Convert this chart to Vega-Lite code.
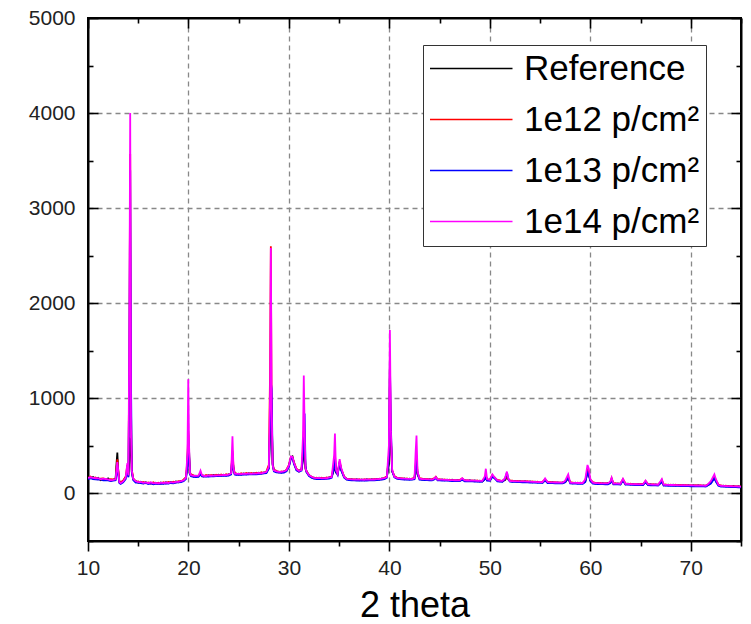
{
"$schema": "https://vega.github.io/schema/vega-lite/v6.json",
"autosize": "none",
"width": 653,
"height": 523,
"padding": {"left": 88, "top": 18, "right": 10, "bottom": 83},
"config": {"font": "Liberation Sans", "view": {"stroke": "#000", "strokeWidth": 2}},
"layer": [
{
"data": {"values": [
{"x":10,"R":171,"A":161,"B":150,"C":163},
{"x":10.25,"R":160,"A":177,"B":162,"C":170},
{"x":10.5,"R":173,"A":158,"B":151,"C":165},
{"x":10.75,"R":154,"A":167,"B":149,"C":160},
{"x":11,"R":165,"A":150,"B":147,"C":162},
{"x":11.25,"R":140,"A":155,"B":149,"C":148},
{"x":11.5,"R":153,"A":159,"B":138,"C":155},
{"x":11.75,"R":142,"A":150,"B":141,"C":152},
{"x":12,"R":158,"A":140,"B":137,"C":149},
{"x":12.25,"R":133,"A":150,"B":131,"C":139},
{"x":12.5,"R":142,"A":147,"B":135,"C":144},
{"x":12.75,"R":160,"A":150,"B":140,"C":150},
{"x":12.85,"R":330,"A":280,"B":230,"C":260},
{"x":12.92,"R":430,"A":360,"B":300,"C":330},
{"x":13,"R":250,"A":260,"B":200,"C":240},
{"x":13.12,"R":120,"A":130,"B":110,"C":120},
{"x":13.25,"R":112,"A":118,"B":100,"C":108},
{"x":13.5,"R":128,"A":135,"B":118,"C":126},
{"x":13.75,"R":170,"A":175,"B":150,"C":165},
{"x":13.92,"R":220,"A":300,"B":250,"C":320},
{"x":14.02,"R":180,"A":200,"B":170,"C":190},
{"x":14.12,"R":350,"A":1500,"B":1400,"C":1800},
{"x":14.2,"R":570,"A":3570,"B":3400,"C":4000},
{"x":14.28,"R":560,"A":900,"B":1200,"C":700},
{"x":14.36,"R":230,"A":250,"B":220,"C":240},
{"x":14.5,"R":150,"A":160,"B":142,"C":155},
{"x":14.75,"R":130,"A":122,"B":115,"C":128},
{"x":15,"R":112,"A":126,"B":114,"C":120},
{"x":15.25,"R":123,"A":110,"B":108,"C":121},
{"x":15.5,"R":108,"A":120,"B":104,"C":112},
{"x":15.75,"R":118,"A":107,"B":110,"C":116},
{"x":16,"R":104,"A":116,"B":99,"C":108},
{"x":16.25,"R":114,"A":103,"B":105,"C":117},
{"x":16.5,"R":102,"A":118,"B":97,"C":106},
{"x":16.75,"R":113,"A":104,"B":103,"C":111},
{"x":17,"R":100,"A":112,"B":98,"C":105},
{"x":17.25,"R":115,"A":101,"B":104,"C":113},
{"x":17.5,"R":105,"A":117,"B":100,"C":108},
{"x":17.75,"R":117,"A":106,"B":107,"C":115},
{"x":18,"R":108,"A":121,"B":103,"C":110},
{"x":18.25,"R":120,"A":109,"B":110,"C":118},
{"x":18.5,"R":111,"A":124,"B":107,"C":114},
{"x":18.75,"R":125,"A":114,"B":113,"C":122},
{"x":19,"R":118,"A":130,"B":116,"C":121},
{"x":19.25,"R":133,"A":125,"B":120,"C":130},
{"x":19.5,"R":132,"A":144,"B":130,"C":136},
{"x":19.75,"R":168,"A":170,"B":152,"C":165},
{"x":19.9,"R":300,"A":360,"B":280,"C":420},
{"x":19.98,"R":620,"A":660,"B":560,"C":1200},
{"x":20.06,"R":450,"A":380,"B":400,"C":500},
{"x":20.15,"R":210,"A":220,"B":200,"C":215},
{"x":20.25,"R":195,"A":200,"B":182,"C":192},
{"x":20.5,"R":178,"A":190,"B":175,"C":186},
{"x":20.75,"R":188,"A":176,"B":172,"C":184},
{"x":21,"R":180,"A":190,"B":174,"C":186},
{"x":21.2,"R":205,"A":215,"B":200,"C":240},
{"x":21.35,"R":190,"A":185,"B":178,"C":192},
{"x":21.5,"R":188,"A":179,"B":176,"C":186},
{"x":21.75,"R":180,"A":193,"B":178,"C":183},
{"x":22,"R":192,"A":182,"B":177,"C":189},
{"x":22.25,"R":183,"A":195,"B":179,"C":186},
{"x":22.5,"R":194,"A":184,"B":180,"C":191},
{"x":22.75,"R":185,"A":197,"B":182,"C":188},
{"x":23,"R":196,"A":186,"B":182,"C":193},
{"x":23.25,"R":187,"A":199,"B":184,"C":190},
{"x":23.5,"R":198,"A":188,"B":185,"C":195},
{"x":23.75,"R":189,"A":201,"B":186,"C":192},
{"x":24,"R":200,"A":192,"B":187,"C":198},
{"x":24.25,"R":210,"A":215,"B":200,"C":212},
{"x":24.38,"R":400,"A":450,"B":420,"C":600},
{"x":24.48,"R":260,"A":280,"B":250,"C":270},
{"x":24.6,"R":210,"A":212,"B":200,"C":208},
{"x":24.75,"R":199,"A":210,"B":195,"C":205},
{"x":25,"R":208,"A":198,"B":196,"C":206},
{"x":25.25,"R":200,"A":212,"B":196,"C":203},
{"x":25.5,"R":210,"A":201,"B":198,"C":208},
{"x":25.75,"R":202,"A":214,"B":198,"C":205},
{"x":26,"R":212,"A":203,"B":200,"C":210},
{"x":26.25,"R":204,"A":216,"B":200,"C":207},
{"x":26.5,"R":214,"A":205,"B":202,"C":212},
{"x":26.75,"R":206,"A":218,"B":202,"C":209},
{"x":27,"R":217,"A":208,"B":204,"C":215},
{"x":27.25,"R":210,"A":222,"B":206,"C":212},
{"x":27.5,"R":222,"A":213,"B":210,"C":220},
{"x":27.75,"R":218,"A":230,"B":214,"C":225},
{"x":28,"R":270,"A":300,"B":260,"C":280},
{"x":28.12,"R":600,"A":1250,"B":700,"C":1000},
{"x":28.2,"R":1200,"A":2600,"B":1170,"C":2580},
{"x":28.28,"R":900,"A":800,"B":1100,"C":900},
{"x":28.38,"R":300,"A":320,"B":310,"C":300},
{"x":28.5,"R":245,"A":250,"B":232,"C":242},
{"x":28.75,"R":226,"A":238,"B":222,"C":232},
{"x":29,"R":230,"A":221,"B":218,"C":228},
{"x":29.25,"R":220,"A":232,"B":216,"C":226},
{"x":29.5,"R":233,"A":224,"B":220,"C":231},
{"x":29.75,"R":238,"A":250,"B":232,"C":244},
{"x":30,"R":290,"A":300,"B":280,"C":295},
{"x":30.2,"R":380,"A":385,"B":370,"C":390},
{"x":30.35,"R":390,"A":380,"B":375,"C":385},
{"x":30.5,"R":320,"A":330,"B":310,"C":325},
{"x":30.75,"R":250,"A":260,"B":242,"C":255},
{"x":31,"R":238,"A":232,"B":228,"C":236},
{"x":31.25,"R":250,"A":255,"B":240,"C":248},
{"x":31.4,"R":350,"A":450,"B":400,"C":600},
{"x":31.48,"R":480,"A":660,"B":560,"C":1240},
{"x":31.56,"R":450,"A":500,"B":840,"C":700},
{"x":31.65,"R":260,"A":270,"B":290,"C":265},
{"x":31.75,"R":228,"A":236,"B":225,"C":232},
{"x":32,"R":195,"A":188,"B":182,"C":192},
{"x":32.25,"R":168,"A":178,"B":165,"C":175},
{"x":32.5,"R":166,"A":158,"B":155,"C":164},
{"x":32.75,"R":156,"A":166,"B":152,"C":162},
{"x":33,"R":165,"A":157,"B":152,"C":163},
{"x":33.25,"R":155,"A":166,"B":153,"C":158},
{"x":33.5,"R":164,"A":156,"B":152,"C":162},
{"x":33.75,"R":158,"A":168,"B":154,"C":160},
{"x":34,"R":170,"A":162,"B":157,"C":168},
{"x":34.25,"R":175,"A":178,"B":165,"C":172},
{"x":34.5,"R":250,"A":300,"B":270,"C":400},
{"x":34.58,"R":350,"A":420,"B":380,"C":630},
{"x":34.68,"R":220,"A":240,"B":230,"C":250},
{"x":34.85,"R":205,"A":210,"B":195,"C":206},
{"x":35.05,"R":320,"A":340,"B":330,"C":360},
{"x":35.2,"R":250,"A":260,"B":245,"C":270},
{"x":35.5,"R":172,"A":178,"B":165,"C":174},
{"x":35.75,"R":155,"A":150,"B":146,"C":154},
{"x":36,"R":144,"A":153,"B":140,"C":150},
{"x":36.25,"R":150,"A":142,"B":139,"C":148},
{"x":36.5,"R":141,"A":150,"B":138,"C":146},
{"x":36.75,"R":149,"A":140,"B":136,"C":147},
{"x":37,"R":139,"A":149,"B":136,"C":145},
{"x":37.25,"R":148,"A":139,"B":135,"C":146},
{"x":37.5,"R":139,"A":149,"B":136,"C":144},
{"x":37.75,"R":149,"A":140,"B":136,"C":147},
{"x":38,"R":140,"A":150,"B":137,"C":145},
{"x":38.25,"R":150,"A":141,"B":138,"C":148},
{"x":38.5,"R":142,"A":152,"B":139,"C":147},
{"x":38.75,"R":153,"A":144,"B":140,"C":151},
{"x":39,"R":146,"A":156,"B":143,"C":152},
{"x":39.25,"R":158,"A":149,"B":145,"C":156},
{"x":39.5,"R":155,"A":165,"B":150,"C":160},
{"x":39.75,"R":175,"A":178,"B":165,"C":172},
{"x":39.95,"R":300,"A":400,"B":380,"C":500},
{"x":40.05,"R":700,"A":1350,"B":1390,"C":1720},
{"x":40.15,"R":560,"A":600,"B":700,"C":650},
{"x":40.28,"R":230,"A":240,"B":235,"C":245},
{"x":40.5,"R":178,"A":182,"B":170,"C":176},
{"x":40.75,"R":160,"A":168,"B":156,"C":165},
{"x":41,"R":162,"A":155,"B":150,"C":160},
{"x":41.25,"R":151,"A":160,"B":148,"C":157},
{"x":41.5,"R":157,"A":150,"B":146,"C":155},
{"x":41.75,"R":149,"A":157,"B":145,"C":154},
{"x":42,"R":156,"A":149,"B":144,"C":154},
{"x":42.25,"R":148,"A":157,"B":145,"C":150},
{"x":42.5,"R":160,"A":165,"B":150,"C":162},
{"x":42.62,"R":250,"A":300,"B":280,"C":450},
{"x":42.7,"R":300,"A":400,"B":350,"C":610},
{"x":42.8,"R":200,"A":220,"B":210,"C":230},
{"x":43,"R":156,"A":160,"B":146,"C":155},
{"x":43.25,"R":146,"A":155,"B":143,"C":152},
{"x":43.5,"R":152,"A":145,"B":140,"C":150},
{"x":43.75,"R":143,"A":152,"B":140,"C":148},
{"x":44,"R":150,"A":143,"B":139,"C":148},
{"x":44.25,"R":142,"A":151,"B":139,"C":145},
{"x":44.5,"R":158,"A":162,"B":150,"C":160},
{"x":44.62,"R":170,"A":175,"B":165,"C":172},
{"x":44.8,"R":148,"A":143,"B":138,"C":146},
{"x":45,"R":140,"A":149,"B":137,"C":145},
{"x":45.25,"R":147,"A":140,"B":136,"C":145},
{"x":45.5,"R":139,"A":147,"B":134,"C":142},
{"x":45.75,"R":146,"A":138,"B":134,"C":143},
{"x":46,"R":137,"A":145,"B":133,"C":141},
{"x":46.25,"R":144,"A":136,"B":131,"C":141},
{"x":46.5,"R":135,"A":143,"B":131,"C":139},
{"x":46.75,"R":142,"A":134,"B":129,"C":139},
{"x":47,"R":134,"A":142,"B":130,"C":138},
{"x":47.25,"R":150,"A":158,"B":145,"C":160},
{"x":47.5,"R":140,"A":133,"B":128,"C":138},
{"x":47.75,"R":131,"A":140,"B":128,"C":136},
{"x":48,"R":139,"A":131,"B":126,"C":136},
{"x":48.25,"R":130,"A":138,"B":126,"C":134},
{"x":48.5,"R":137,"A":129,"B":124,"C":134},
{"x":48.75,"R":128,"A":136,"B":124,"C":132},
{"x":49,"R":135,"A":128,"B":123,"C":133},
{"x":49.25,"R":127,"A":136,"B":124,"C":132},
{"x":49.5,"R":150,"A":160,"B":150,"C":180},
{"x":49.6,"R":180,"A":190,"B":185,"C":260},
{"x":49.72,"R":140,"A":145,"B":135,"C":150},
{"x":50,"R":140,"A":145,"B":133,"C":142},
{"x":50.25,"R":180,"A":195,"B":175,"C":200},
{"x":50.45,"R":170,"A":165,"B":160,"C":172},
{"x":50.75,"R":136,"A":142,"B":128,"C":138},
{"x":51,"R":128,"A":137,"B":124,"C":132},
{"x":51.25,"R":135,"A":127,"B":123,"C":133},
{"x":51.5,"R":140,"A":145,"B":150,"C":160},
{"x":51.7,"R":170,"A":175,"B":220,"C":230},
{"x":51.85,"R":150,"A":148,"B":145,"C":152},
{"x":52,"R":132,"A":136,"B":124,"C":131},
{"x":52.25,"R":126,"A":134,"B":122,"C":130},
{"x":52.5,"R":132,"A":125,"B":121,"C":130},
{"x":52.75,"R":124,"A":132,"B":120,"C":128},
{"x":53,"R":130,"A":123,"B":119,"C":128},
{"x":53.25,"R":122,"A":130,"B":118,"C":126},
{"x":53.5,"R":128,"A":121,"B":117,"C":126},
{"x":53.75,"R":120,"A":128,"B":116,"C":124},
{"x":54,"R":126,"A":120,"B":115,"C":124},
{"x":54.25,"R":118,"A":126,"B":114,"C":122},
{"x":54.5,"R":124,"A":118,"B":113,"C":122},
{"x":54.75,"R":116,"A":124,"B":112,"C":120},
{"x":55,"R":122,"A":117,"B":112,"C":121},
{"x":55.25,"R":115,"A":123,"B":111,"C":119},
{"x":55.5,"R":140,"A":148,"B":138,"C":158},
{"x":55.75,"R":120,"A":115,"B":110,"C":119},
{"x":56,"R":113,"A":121,"B":109,"C":117},
{"x":56.25,"R":119,"A":113,"B":108,"C":117},
{"x":56.5,"R":111,"A":119,"B":107,"C":115},
{"x":56.75,"R":117,"A":111,"B":106,"C":115},
{"x":57,"R":109,"A":117,"B":105,"C":113},
{"x":57.25,"R":116,"A":110,"B":105,"C":114},
{"x":57.5,"R":120,"A":125,"B":118,"C":135},
{"x":57.8,"R":160,"A":170,"B":165,"C":200},
{"x":58,"R":115,"A":118,"B":106,"C":114},
{"x":58.25,"R":107,"A":115,"B":103,"C":111},
{"x":58.5,"R":114,"A":108,"B":103,"C":112},
{"x":58.75,"R":106,"A":114,"B":102,"C":110},
{"x":59,"R":113,"A":107,"B":102,"C":111},
{"x":59.25,"R":106,"A":114,"B":102,"C":110},
{"x":59.5,"R":125,"A":135,"B":120,"C":150},
{"x":59.72,"R":220,"A":250,"B":220,"C":300},
{"x":59.85,"R":200,"A":210,"B":195,"C":260},
{"x":60,"R":140,"A":145,"B":130,"C":150},
{"x":60.25,"R":112,"A":118,"B":104,"C":114},
{"x":60.5,"R":104,"A":112,"B":100,"C":108},
{"x":60.75,"R":110,"A":103,"B":99,"C":108},
{"x":61,"R":102,"A":110,"B":98,"C":106},
{"x":61.25,"R":109,"A":102,"B":98,"C":107},
{"x":61.5,"R":101,"A":109,"B":97,"C":105},
{"x":61.75,"R":108,"A":101,"B":97,"C":106},
{"x":62,"R":115,"A":120,"B":110,"C":125},
{"x":62.12,"R":150,"A":160,"B":145,"C":165},
{"x":62.3,"R":106,"A":100,"B":96,"C":104},
{"x":62.5,"R":99,"A":107,"B":95,"C":103},
{"x":62.75,"R":106,"A":99,"B":95,"C":104},
{"x":63,"R":98,"A":106,"B":94,"C":102},
{"x":63.25,"R":140,"A":150,"B":135,"C":155},
{"x":63.5,"R":97,"A":105,"B":93,"C":101},
{"x":63.75,"R":103,"A":96,"B":92,"C":101},
{"x":64,"R":95,"A":103,"B":91,"C":99},
{"x":64.25,"R":101,"A":94,"B":90,"C":99},
{"x":64.5,"R":93,"A":101,"B":89,"C":97},
{"x":64.75,"R":99,"A":92,"B":88,"C":97},
{"x":65,"R":92,"A":100,"B":88,"C":96},
{"x":65.25,"R":99,"A":92,"B":88,"C":97},
{"x":65.5,"R":120,"A":130,"B":118,"C":135},
{"x":65.75,"R":91,"A":99,"B":87,"C":95},
{"x":66,"R":97,"A":90,"B":86,"C":95},
{"x":66.25,"R":89,"A":97,"B":85,"C":93},
{"x":66.5,"R":96,"A":89,"B":85,"C":94},
{"x":66.75,"R":88,"A":96,"B":84,"C":92},
{"x":67,"R":110,"A":120,"B":108,"C":130},
{"x":67.12,"R":130,"A":140,"B":125,"C":150},
{"x":67.3,"R":94,"A":87,"B":83,"C":92},
{"x":67.5,"R":86,"A":94,"B":82,"C":90},
{"x":67.75,"R":92,"A":85,"B":81,"C":90},
{"x":68,"R":85,"A":93,"B":81,"C":89},
{"x":68.25,"R":91,"A":84,"B":80,"C":89},
{"x":68.5,"R":83,"A":91,"B":79,"C":87},
{"x":68.75,"R":90,"A":83,"B":79,"C":88},
{"x":69,"R":82,"A":90,"B":78,"C":86},
{"x":69.25,"R":89,"A":82,"B":78,"C":87},
{"x":69.5,"R":81,"A":89,"B":77,"C":85},
{"x":69.75,"R":88,"A":81,"B":77,"C":86},
{"x":70,"R":80,"A":88,"B":76,"C":84},
{"x":70.25,"R":87,"A":80,"B":76,"C":85},
{"x":70.5,"R":79,"A":87,"B":75,"C":83},
{"x":70.75,"R":86,"A":79,"B":75,"C":84},
{"x":71,"R":78,"A":86,"B":74,"C":82},
{"x":71.25,"R":85,"A":78,"B":74,"C":83},
{"x":71.5,"R":77,"A":85,"B":73,"C":81},
{"x":71.75,"R":90,"A":95,"B":88,"C":100},
{"x":72,"R":110,"A":118,"B":105,"C":130},
{"x":72.35,"R":165,"A":175,"B":160,"C":200},
{"x":72.5,"R":130,"A":140,"B":125,"C":150},
{"x":72.75,"R":88,"A":94,"B":82,"C":90},
{"x":73,"R":77,"A":84,"B":73,"C":80},
{"x":73.25,"R":82,"A":76,"B":72,"C":80},
{"x":73.5,"R":74,"A":81,"B":70,"C":78},
{"x":73.75,"R":80,"A":73,"B":69,"C":77},
{"x":74,"R":72,"A":79,"B":68,"C":76},
{"x":74.25,"R":78,"A":71,"B":67,"C":75},
{"x":74.5,"R":70,"A":77,"B":66,"C":74},
{"x":74.75,"R":76,"A":69,"B":65,"C":73},
{"x":75,"R":68,"A":75,"B":64,"C":72}
]},
"transform": [{"fold": ["R", "A", "B", "C"], "as": ["s", "v"]}],
"mark": {"type": "line", "strokeWidth": 1.8, "clip": true},
"encoding": {
"x": {"field": "x", "type": "quantitative",
 "scale": {"domain": [10, 75], "nice": false, "zero": false},
 "axis": {"orient": "bottom", "title": "2 theta", "titleFontSize": 36, "titleFontWeight": "normal", "titleColor": "#000", "titlePadding": 10,
  "values": [10,15,20,25,30,35,40,45,50,55,60,65,70,75],
  "labelExpr": "datum.value % 10 === 0 && datum.value < 75 ? datum.label : ''",
  "labelFontSize": 21, "labelColor": "#222", "labelPadding": 6, "labelFlush": false,
  "tickSize": {"condition": {"test": "datum.value % 10 === 0", "value": 10}, "value": 5},
  "tickColor": "#000", "tickWidth": 1.6,
  "domainColor": "#000", "domainWidth": 2,
  "grid": true, "gridColor": "#888", "gridDash": [5, 4], "gridWidth": 1.3,
  "gridOpacity": {"condition": {"test": "datum.value % 10 === 0 && datum.value > 10 && datum.value < 75", "value": 1}, "value": 0}}},
"y": {"field": "v", "type": "quantitative",
 "scale": {"domain": [-500, 5000], "nice": false, "zero": false},
 "axis": {"orient": "left", "title": null,
  "values": [-500,0,500,1000,1500,2000,2500,3000,3500,4000,4500,5000],
  "format": "d",
  "labelExpr": "datum.value % 1000 === 0 && datum.value >= 0 ? datum.label : ''",
  "labelFontSize": 21, "labelColor": "#222", "labelPadding": 23, "labelFlush": false,
  "tickSize": {"condition": {"test": "datum.value % 1000 === 0", "value": -10}, "value": -5},
  "tickColor": "#000", "tickWidth": 1.6,
  "domainColor": "#000", "domainWidth": 2,
  "grid": true, "gridColor": "#888", "gridDash": [5, 4], "gridWidth": 1.3,
  "gridOpacity": {"condition": {"test": "datum.value % 1000 === 0 && datum.value >= 0 && datum.value < 5000", "value": 1}, "value": 0}}},
"color": {"field": "s", "type": "nominal",
 "scale": {"domain": ["R", "A", "B", "C"], "range": ["#000000", "#ff0000", "#0000ff", "#ff00ff"]},
 "legend": {"title": null, "orient": "none", "legendX": 335, "legendY": 27,
  "labelExpr": "datum.label === 'R' ? 'Reference' : datum.label === 'A' ? '1e12 p/cm²' : datum.label === 'B' ? '1e13 p/cm²' : '1e14 p/cm²'",
  "labelFontSize": 35, "labelColor": "#000", "labelOffset": 60, "labelLimit": 400,
  "symbolType": "M-1,0H4", "symbolSize": 1089, "symbolStrokeWidth": 1.5,
  "strokeColor": "#333", "fillColor": "#fff", "padding": 6, "rowPadding": 15}}
}
},
{
"data": {"values": [{"x": 10, "v": 0}]},
"mark": {"type": "point", "opacity": 0},
"encoding": {
"x": {"field": "x", "type": "quantitative",
 "scale": {"domain": [10, 75], "nice": false, "zero": false},
 "axis": {"orient": "top", "title": null, "labels": false, "grid": false,
  "values": [10,15,20,25,30,35,40,45,50,55,60,65,70,75],
  "tickSize": {"condition": {"test": "datum.value % 10 === 0", "value": -10}, "value": -5},
  "tickColor": "#000", "tickWidth": 1.6, "domainColor": "#000", "domainWidth": 2}},
"y": {"field": "v", "type": "quantitative",
 "scale": {"domain": [-500, 5000], "nice": false, "zero": false},
 "axis": {"orient": "right", "title": null, "labels": false, "grid": false,
  "values": [-500,0,500,1000,1500,2000,2500,3000,3500,4000,4500,5000],
  "tickSize": {"condition": {"test": "datum.value % 1000 === 0", "value": -10}, "value": -5},
  "tickColor": "#000", "tickWidth": 1.6, "domainColor": "#000", "domainWidth": 2}}
}
}
],
"resolve": {"axis": {"x": "independent", "y": "independent"}}
}
